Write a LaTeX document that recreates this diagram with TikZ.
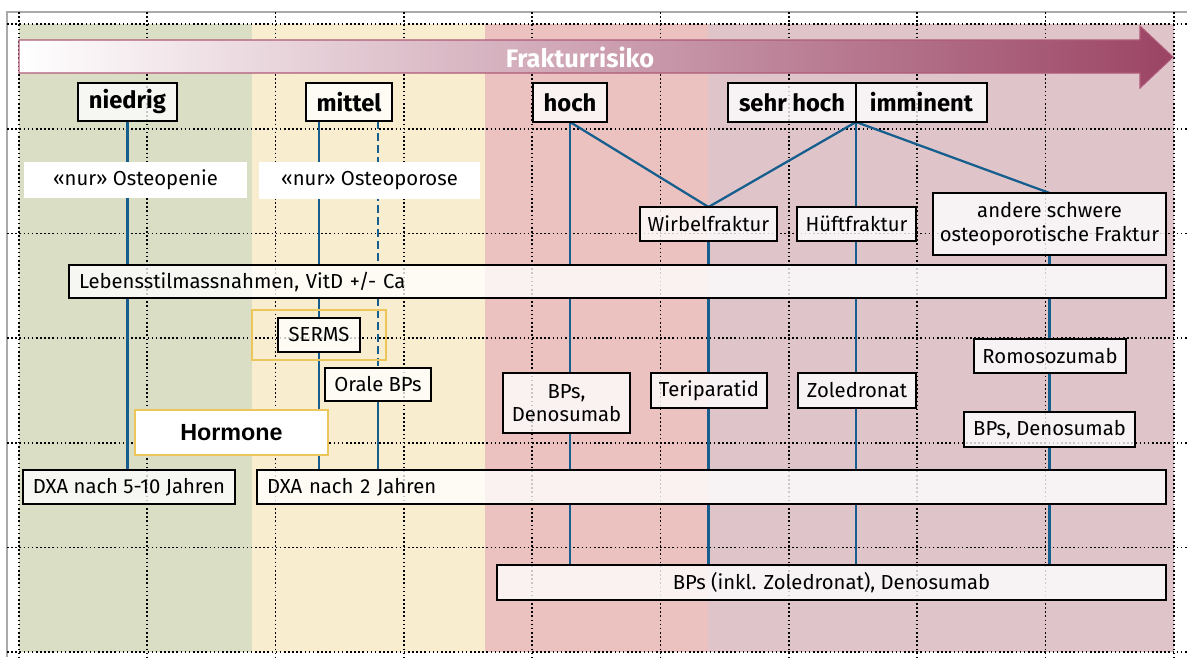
\documentclass[tikz,border=0pt]{standalone}
\usepackage{fontspec}
\setmainfont{Fira Sans}
\newfontfamily\arialf{Liberation Sans}
\usetikzlibrary{calc}
\pgfdeclarelayer{bg}
\pgfdeclarelayer{lines}
\pgfsetlayers{bg,lines,main}
\definecolor{cgreen}{RGB}{218,222,197}
\definecolor{cyellow}{RGB}{249,237,207}
\definecolor{cpink}{RGB}{235,194,192}
\definecolor{cmauve}{RGB}{223,197,202}
\definecolor{carrow}{RGB}{155,68,100}
\definecolor{carrowline}{RGB}{175,90,120}
\definecolor{cblue}{RGB}{21,94,141}
\definecolor{cyel}{RGB}{236,198,90}
\definecolor{cgrayb}{RGB}{170,170,170}
\begin{document}
\begin{tikzpicture}[x=0.75pt,y=-0.75pt,
  wh/.style 2 args={minimum width=#1*0.75pt, minimum height=#2*0.75pt},
  box/.style={draw=black, line width=1.95pt, fill=white, fill opacity=0.78, text opacity=1, inner sep=0pt, outer sep=0pt, align=center, font=\fontsize{15.2}{17.5}\selectfont},
  headbox/.style={box, font=\fontsize{17.8}{20}\selectfont\bfseries},
  plainbox/.style={fill=white, inner sep=0pt, outer sep=0pt, align=center, font=\fontsize{15.2}{17.5}\selectfont},
  yelbox/.style={draw=cyel, line width=1.5pt, inner sep=0pt, outer sep=0pt},
  conn/.style={draw=cblue, line width=1.7pt},
  dconn/.style={conn, dash pattern=on 6pt off 3pt},
  gridline/.style={line width=1.25pt, dash pattern=on 1.2pt off 1.9pt},
]
\useasboundingbox (0,0) rectangle (1187,657);

% ---- nodes (main layer)
\node[headbox, wh={99}{38}] (niedrig) at (127.5,102) {niedrig};
\node[headbox, wh={86}{38}] (mittel) at (349,102) {mittel};
\node[headbox, wh={74}{39}] (hoch) at (570,102.5) {hoch};
\node[headbox, wh={128}{39}] (sehrhoch) at (792,102.5) {sehr hoch};
\node[headbox, wh={131}{39}] (imminent) at (921.5,102.5) {imminent};

\node[plainbox, wh={223}{36}] (osteopenie) at (135.5,180) {«nur» Osteopenie};
\node[plainbox, wh={221}{37}] (osteoporose) at (369.5,180.5) {«nur» Osteoporose};

\node[box, wh={137}{34}] (wirbel) at (708.5,224) {Wirbelfraktur};
\node[box, wh={119}{34}] (huft) at (856.5,224) {Hüftfraktur};
\node[box, wh={233}{62}] (andere) at (1049.5,224) {andere schwere\\osteoporotische Fraktur};

\node[box, wh={1097}{33}, align=left, text width=807.75pt] (leben) at (617.5,281.5) {Lebensstilmassnahmen, VitD +/- Ca};

\node[yelbox, wh={134}{50}] (sermsframe) at (319,335) {};
\node[box, wh={82}{34}] (serms) at (319,335) {SERMS};
\node[box, wh={106}{33}] (orale) at (378,384.5) {Orale BPs};
\node[yelbox, fill=white, wh={193}{45}, font=\arialf\fontsize{17.5}{20}\selectfont\bfseries] (hormone) at (231.5,432.5) {Hormone};

\node[box, wh={127}{60}] (bpsdeno) at (566.5,403) {BPs,\\Denosumab};
\node[box, wh={116}{35}] (teri) at (709,390.5) {Teriparatid};
\node[box, wh={118}{35}] (zol) at (857,390.5) {Zoledronat};
\node[box, wh={152}{34}] (romo) at (1050,356) {Romosozumab};
\node[box, wh={171}{35}] (bpsdeno2) at (1049.5,429.5) {BPs, Denosumab};

\node[box, wh={212}{34}] (dxa5) at (129,487) {DXA nach 5-10 Jahren};
\node[box, wh={909}{34}, align=left, text width=666.75pt] (dxa2) at (711.5,487) {DXA nach 2 Jahren};
\node[box, wh={669}{35}] (bottom) at (831.5,582.5) {BPs (inkl. Zoledronat), Denosumab};

% ---- background
\begin{pgfonlayer}{bg}
  \fill[cgreen] (19,24) rectangle (252,652);
  \fill[cyellow] (252,24) rectangle (485,652);
  \fill[cpink] (485,24) rectangle (708,652);
  \fill[cmauve] (708,24) rectangle (1174,652);
  \draw[cgrayb, line width=0.8pt] (7,657) -- (7,12) -- (1187,12);
  \foreach \i in {0,...,9} \draw[gridline] ({19+128.33*\i},12) -- ({19+128.33*\i},657);
  \foreach \j in {0,...,6} \draw[gridline] (7,{24+104.67*\j}) -- (1187,{24+104.67*\j});
  \shade[left color=white, right color=carrow, draw=carrowline, line width=0.8pt]
    (19,40) -- (1140,40) -- (1140,26) -- (1173,57) -- (1140,88) -- (1140,73) -- (19,73) -- cycle;
  \node[text=white, font=\fontsize{19}{22}\selectfont\bfseries] (titel) at (580,57) {Frakturrisiko};
\end{pgfonlayer}

% ---- connectors
\begin{pgfonlayer}{lines}
  % niedrig
  \draw[conn] (niedrig.south) -- (niedrig.south |- leben.north);
  \draw[conn] (niedrig.south |- leben.south) -- (niedrig.south |- dxa5.north);
  % mittel
  \coordinate (m1) at (serms.north |- mittel.south);
  \coordinate (m2) at (orale.north |- mittel.south);
  \draw[conn] (m1) -- (m1 |- leben.north);
  \draw[conn] (m1 |- leben.south) -- (serms.north);
  \draw[conn] (serms.south) -- (m1 |- dxa2.north);
  \draw[dconn] (m2) -- (m2 |- leben.north);
  \draw[dconn] (m2 |- leben.south) -- (orale.north);
  \draw[conn] (orale.south) -- (m2 |- dxa2.north);
  % hoch
  \draw[conn] (hoch.south) -- (hoch.south |- leben.north);
  \draw[conn] (hoch.south |- leben.south) -- (hoch.south |- bpsdeno.north);
  \draw[conn] (hoch.south |- bpsdeno.south) -- (hoch.south |- dxa2.north);
  \draw[conn] (hoch.south |- dxa2.south) -- (hoch.south |- bottom.north);
  \draw[conn] (hoch.south) -- (wirbel.north);
  % sehr hoch / imminent junction
  \coordinate (jn) at (sehrhoch.south east);
  \draw[conn] (jn) -- (wirbel.north);
  \draw[conn] (jn) -- (andere.north);
  \draw[conn] (jn) -- (jn |- huft.north);
  \draw[conn] (jn |- huft.south) -- (jn |- leben.north);
  \draw[conn] (jn |- leben.south) -- (jn |- zol.north);
  \draw[conn] (jn |- zol.south) -- (jn |- dxa2.north);
  \draw[conn] (jn |- dxa2.south) -- (jn |- bottom.north);
  % Wirbelfraktur
  \draw[conn] (wirbel.south) -- (wirbel.south |- leben.north);
  \draw[conn] (wirbel.south |- leben.south) -- (wirbel.south |- teri.north);
  \draw[conn] (wirbel.south |- teri.south) -- (wirbel.south |- dxa2.north);
  \draw[conn] (wirbel.south |- dxa2.south) -- (wirbel.south |- bottom.north);
  % andere
  \draw[conn] (andere.south) -- (andere.south |- leben.north);
  \draw[conn] (andere.south |- leben.south) -- (andere.south |- romo.north);
  \draw[conn] (andere.south |- romo.south) -- (andere.south |- bpsdeno2.north);
  \draw[conn] (andere.south |- bpsdeno2.south) -- (andere.south |- dxa2.north);
  \draw[conn] (andere.south |- dxa2.south) -- (andere.south |- bottom.north);
\end{pgfonlayer}
\end{tikzpicture}
\end{document}
